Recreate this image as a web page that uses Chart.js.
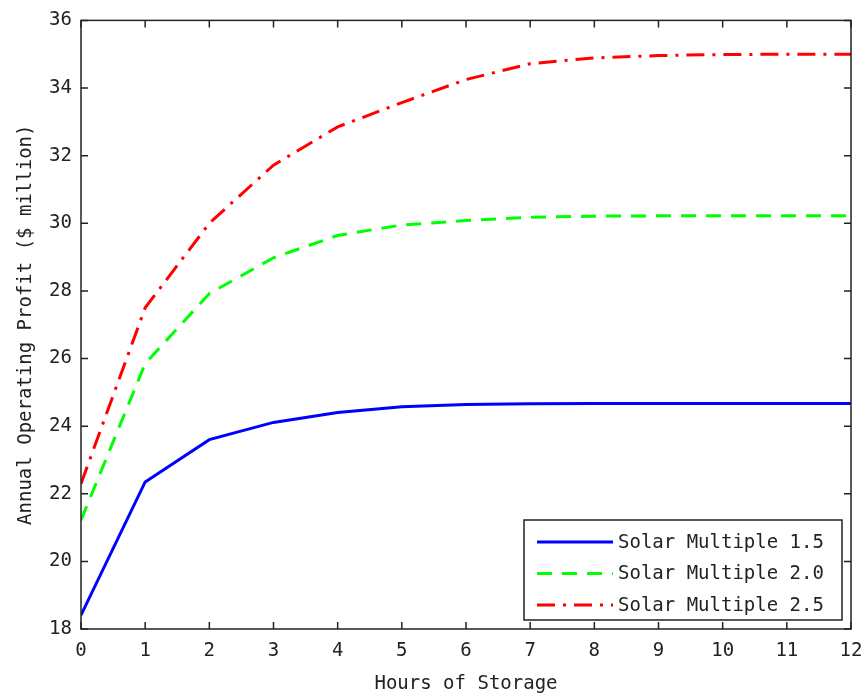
<!DOCTYPE html>
<html>
<head>
<meta charset="utf-8">
<script src="https://cdn.jsdelivr.net/npm/chart.js@4/dist/chart.umd.min.js"></script>
<style>
  html, body { margin: 0; padding: 0; background: #fff; }
  #wrap { width: 865px; height: 696px; }
</style>
</head>
<body>
<div id="wrap"><canvas id="chart" width="865" height="696"></canvas></div>
<script>
// hours of storage
const hours = [0, 1, 2, 3, 4, 5, 6, 7, 8, 9, 10, 11, 12];

// annual operating profit, $ million
const sm15 = [18.41, 22.35, 23.6, 24.11, 24.4, 24.57, 24.64, 24.66, 24.67, 24.67, 24.67, 24.67, 24.67];
const sm20 = [21.22, 25.85, 27.92, 28.98, 29.64, 29.95, 30.08, 30.18, 30.21, 30.22, 30.22, 30.22, 30.22];
const sm25 = [22.3, 27.5, 30.0, 31.72, 32.85, 33.57, 34.25, 34.72, 34.89, 34.96, 34.99, 35.0, 35.0];

const seriesNames = ["Solar Multiple 1.5", "Solar Multiple 2.0", "Solar Multiple 2.5"];
const yTicks = [18, 20, 22, 24, 26, 28, 30, 32, 34, 36];

const FONT = "'DejaVu Sans Mono', 'Liberation Mono', monospace";
const INK = "#222";

function toPoints(vals) {
    return hours.map((h, i) => ({ x: h, y: vals[i] }));
}

// box around the plot with inward tick marks, like the original
const framePlugin = {
    id: "frame",
    afterDatasetsDraw(chart) {
        const { ctx, chartArea: a, scales } = chart;
        ctx.save();
        ctx.strokeStyle = INK;
        ctx.lineWidth = 1.5;
        ctx.strokeRect(a.left, a.top, a.right - a.left, a.bottom - a.top);
        const len = 7;
        ctx.beginPath();
        hours.forEach(h => {
            const px = scales.x.getPixelForValue(h);
            ctx.moveTo(px, a.bottom); ctx.lineTo(px, a.bottom - len);
            ctx.moveTo(px, a.top); ctx.lineTo(px, a.top + len);
        });
        yTicks.forEach(v => {
            const py = scales.y.getPixelForValue(v);
            ctx.moveTo(a.left, py); ctx.lineTo(a.left + len, py);
            ctx.moveTo(a.right, py); ctx.lineTo(a.right - len, py);
        });
        ctx.stroke();
        ctx.restore();
    }
};

// legend box in the lower right corner of the plot
const legendPlugin = {
    id: "boxLegend",
    afterDraw(chart) {
        const { ctx, chartArea: a } = chart;
        const w = 318, h = 100;
        const x0 = a.right - 9 - w, y0 = a.bottom - 9 - h;
        ctx.save();
        ctx.fillStyle = "#fff";
        ctx.fillRect(x0, y0, w, h);
        ctx.strokeStyle = INK;
        ctx.lineWidth = 1.5;
        ctx.strokeRect(x0, y0, w, h);
        chart.data.datasets.forEach((ds, i) => {
            const y = y0 + 22 + i * 31.5;
            ctx.beginPath();
            ctx.setLineDash(ds.borderDash || []);
            ctx.strokeStyle = ds.borderColor;
            ctx.lineWidth = ds.borderWidth;
            ctx.moveTo(x0 + 13, y);
            ctx.lineTo(x0 + 89, y);
            ctx.stroke();
            ctx.setLineDash([]);
            ctx.fillStyle = INK;
            ctx.font = "19px " + FONT;
            ctx.textBaseline = "middle";
            ctx.fillText(ds.label, x0 + 94, y + 1);
        });
        ctx.restore();
    }
};

const ctx = document.getElementById("chart").getContext("2d");
new Chart(ctx, {
    type: "line",
    data: {
        datasets: [
            {
                label: seriesNames[0],
                data: toPoints(sm15),
                borderColor: "#0000ff",
                borderWidth: 3
            },
            {
                label: seriesNames[1],
                data: toPoints(sm20),
                borderColor: "#00ff00",
                borderWidth: 3,
                borderDash: [15, 10]
            },
            {
                label: seriesNames[2],
                data: toPoints(sm25),
                borderColor: "#ff0000",
                borderWidth: 3,
                borderDash: [18, 8, 3, 8]
            }
        ]
    },
    options: {
        responsive: false,
        animation: false,
        layout: { padding: { top: 19, right: 14, left: 0, bottom: 0 } },
        elements: { point: { radius: 0 }, line: { tension: 0 } },
        plugins: {
            legend: { display: false },
            tooltip: { enabled: false }
        },
        scales: {
            x: {
                type: "linear",
                min: 0,
                max: 12,
                grid: { display: false, drawTicks: false },
                border: { display: false },
                afterBuildTicks: (scale) => { scale.ticks = hours.map(v => ({ value: v })); },
                afterFit: (scale) => {
                    scale.height = 67;
                    scale.paddingLeft = 0;
                    scale.paddingRight = 0;
                },
                ticks: {
                    color: INK,
                    padding: 11,
                    maxRotation: 0,
                    font: { family: FONT, size: 19 }
                },
                title: {
                    display: true,
                    text: "Hours of Storage",
                    color: INK,
                    padding: { top: 0, bottom: 1 },
                    font: { family: FONT, size: 19 }
                }
            },
            y: {
                min: 18,
                max: 36,
                grid: { display: false, drawTicks: false },
                border: { display: false },
                afterBuildTicks: (scale) => { scale.ticks = yTicks.map(v => ({ value: v })); },
                afterFit: (scale) => { scale.width = 81; },
                ticks: {
                    color: INK,
                    padding: 9,
                    font: { family: FONT, size: 19 }
                },
                title: {
                    display: true,
                    text: "Annual Operating Profit ($ million)",
                    color: INK,
                    padding: { top: 15, bottom: 0 },
                    font: { family: FONT, size: 19 }
                }
            }
        }
    },
    plugins: [framePlugin, legendPlugin]
});
</script>
</body>
</html>
